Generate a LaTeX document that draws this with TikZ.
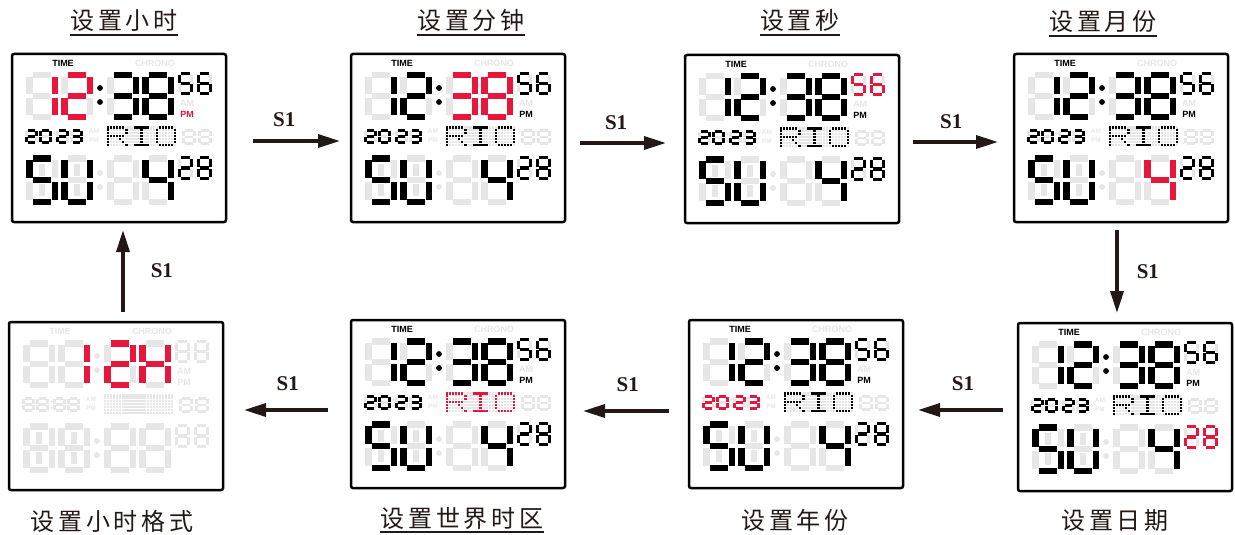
\documentclass[tikz,border=0pt]{standalone}
\usepackage{fontspec}
\setmainfont{Liberation Serif}
\setsansfont{Liberation Sans}
\newfontfamily\cjk[LetterSpace=16]{Noto Sans CJK SC}
\usetikzlibrary{arrows.meta,positioning}

\definecolor{lcdgray}{RGB}{230,230,230}
\definecolor{lcdred}{RGB}{232,22,58}
\definecolor{ink}{RGB}{35,24,21}

% segments of one digit, in a unit box (y runs down)
\newcommand\lcdsega[1]{\draw[#1] (0.14,0) -- (0.86,0);}
\newcommand\lcdsegb[1]{\draw[#1] (1,0.05) -- (1,0.46);}
\newcommand\lcdsegc[1]{\draw[#1] (1,0.54) -- (1,0.95);}
\newcommand\lcdsegd[1]{\draw[#1] (0.14,1) -- (0.86,1);}
\newcommand\lcdsege[1]{\draw[#1] (0,0.54) -- (0,0.95);}
\newcommand\lcdsegf[1]{\draw[#1] (0,0.05) -- (0,0.46);}
\newcommand\lcdsegg[1]{\draw[#1] (0.14,0.5) -- (0.86,0.5);}
\newcommand\lcdsegh[1]{\draw[#1] (0.5,0.14) -- (0.5,0.4);}
\newcommand\lcdsegi[1]{\draw[#1] (0.5,0.6) -- (0.5,0.86);}

% #1 corner, #2 width, #3 height, #4 segments, #5 style
\newcommand\lcddigit[5]{%
  \begin{scope}[shift={#1}, xscale=#2, yscale=#3]
    \foreach \s in {#4}{\csname lcdseg\s\endcsname{#5}}
  \end{scope}}

% dot matrix letters (column/row)
\def\chR{0/0,1/0,2/0,3/0,4/0,5/0,0/1,6/1,0/2,6/2,0/3,1/3,2/3,3/3,4/3,5/3,0/4,4/4,0/5,5/5,0/6,6/6}
\def\chI{1/0,2/0,3/0,4/0,5/0,3/1,3/2,3/3,3/4,3/5,1/6,2/6,3/6,4/6,5/6}
\def\chO{1/0,2/0,3/0,4/0,5/0,0/1,6/1,0/2,6/2,0/3,6/3,0/4,6/4,0/5,6/5,1/6,2/6,3/6,4/6,5/6}
\newcommand\lcdchar[3]{%
  \foreach \mc/\mr in #2 {\fill[#3, draw=none] ({94.8+3.05*(\mc+#1)}, {72.1+2.95*\mr}) rectangle +(2.4,2.4);}}

\tikzset{
  ghost/.style={draw=lcdgray, fill=lcdgray, text=lcdgray},
  lit/.style={draw=black, fill=black, text=black},
  hot/.style={draw=lcdred, fill=lcdred, text=lcdred},
  hr/.style={lit}, mn/.style={lit}, sc/.style={lit}, yr/.style={lit},
  cty/.style={lit}, dt/.style={lit}, mo/.style={lit}, tm/.style={lit}, pm/.style={lit},
  big/.style={line width=6.5pt},
  small/.style={line width=3.2pt},
  tiny/.style={line width=2.8pt},
  panel/.style={draw=black, line width=2.5pt, rounded corners=2pt, minimum width=214pt,
    minimum height=168pt, inner sep=0pt, outer sep=0pt},
  lcdlbl/.style={font=\sffamily\bfseries\fontsize{9}{9}\selectfont, inner sep=0pt, draw=none, fill=none},
  lcdsml/.style={lcdlbl, font=\sffamily\bfseries\fontsize{6.5}{6.5}\selectfont},
  title/.style={font=\cjk\fontsize{24}{24}\selectfont, text=ink, inner sep=0pt},
  uline/.style={draw=ink, line width=2.2pt},
  flow/.style={draw=ink, line width=3.5pt, -{Triangle[length=22pt,width=13pt]}},
  slbl/.style={font=\bfseries\fontsize{21}{21}\selectfont, text=ink, inner sep=0pt},
}

% every segment of the display, unlit
\newcommand\lcdblank{%
  \node[ghost, lcdlbl] (time0) at (51,9) {TIME};
  \node[ghost, lcdlbl] (chrono) at (143,9) {CHRONO};
  \node[ghost, lcdlbl] (am) at (175,49) {AM};
  \node[ghost, lcdlbl] (pm0) at (175,60) {PM};
  \node[ghost, lcdsml] (am2) at (82,77) {AM};
  \node[ghost, lcdsml] (pm2) at (82,86) {PM};
  \foreach \x in {17.25,52.25,98.25,133.25}{
    \lcddigit{(\x,21.25)}{25.5}{41.5}{a,b,c,d,e,f,g}{big,ghost}
  }
  \foreach \x in {17.25,52.25}{\lcddigit{(\x,104.25)}{25.5}{43.5}{a,b,c,d,e,f,g,h,i}{big,ghost}}
  \foreach \x in {98.25,133.25}{\lcddigit{(\x,104.25)}{25.5}{43.5}{a,b,c,d,e,f,g}{big,ghost}}
  \foreach \y in {34,48,119,133}{\fill[ghost] (88,\y) circle[radius=2.6pt];}
  \foreach \y in {79.5,86}{\fill[ghost] (42.5,\y) circle[radius=1.1pt];}
  \foreach \x in {167.6,186.6}{
    \lcddigit{(\x,19.6)}{11.8}{19.8}{a,b,c,d,e,f,g}{small,ghost}
    \lcddigit{(\x,103.6)}{11.8}{20.8}{a,b,c,d,e,f,g}{small,ghost}
  }
  \foreach \x in {14.4,28.4,45.4,59.4}{\lcddigit{(\x,76.4)}{10.2}{12.2}{a,b,c,d,e,f,g}{tiny,ghost}}
  \foreach \x in {171.4,187.4}{\lcddigit{(\x,76.4)}{11.2}{13.2}{a,b,c,d,e,f,g}{tiny,ghost}}
  \foreach \mc in {0,...,22}{
    \foreach \mr in {0,...,6}{
      \fill[ghost, draw=none] ({94.8+3.05*\mc}, {72.1+2.95*\mr}) rectangle +(2.4,2.4);
    }
  }
}

% 12:38 56 PM, 2023 RIO, SU 4 28
\newcommand\lcdface{%
  \lcdblank
  \node[tm, lcdlbl] (time) at (51,9) {TIME};
  \node[pm, lcdlbl] (pm) at (175,60) {PM};
  \lcddigit{(17.25,21.25)}{25.5}{41.5}{b,c}{big,hr}
  \lcddigit{(52.25,21.25)}{25.5}{41.5}{a,b,g,e,d}{big,hr}
  \foreach \y in {34,48}{\fill[lit] (88,\y) circle[radius=2.6pt];}
  \lcddigit{(98.25,21.25)}{25.5}{41.5}{a,b,g,c,d}{big,mn}
  \lcddigit{(133.25,21.25)}{25.5}{41.5}{a,b,c,d,e,f,g}{big,mn}
  \lcddigit{(167.6,19.6)}{11.8}{19.8}{a,f,g,c,d}{small,sc}
  \lcddigit{(186.6,19.6)}{11.8}{19.8}{a,f,g,e,c,d}{small,sc}
  \lcddigit{(14.4,76.4)}{10.2}{12.2}{a,b,g,e,d}{tiny,yr}
  \lcddigit{(28.4,76.4)}{10.2}{12.2}{a,b,c,d,e,f}{tiny,yr}
  \lcddigit{(45.4,76.4)}{10.2}{12.2}{a,b,g,e,d}{tiny,yr}
  \lcddigit{(59.4,76.4)}{10.2}{12.2}{a,b,g,c,d}{tiny,yr}
  \lcdchar{0}{\chR}{cty}
  \lcdchar{8}{\chI}{cty}
  \lcdchar{16}{\chO}{cty}
  \lcddigit{(17.25,104.25)}{25.5}{43.5}{a,f,g,c,d}{big,lit}
  \lcddigit{(52.25,104.25)}{25.5}{43.5}{f,e,b,c,d}{big,lit}
  \lcddigit{(133.25,104.25)}{25.5}{43.5}{f,g,b,c}{big,mo}
  \lcddigit{(167.6,103.6)}{11.8}{20.8}{a,b,g,e,d}{small,dt}
  \lcddigit{(186.6,103.6)}{11.8}{20.8}{a,b,c,d,e,f,g}{small,dt}
}

\begin{document}
\begin{tikzpicture}[x=1pt, y=-1pt]
\useasboundingbox (0,0) rectangle (1235,535);

% panels
\node[panel] (p1) at (119,138) {};
\node[panel] (p2) at (458,138) {};
\node[panel] (p3) at (792,139) {};
\node[panel] (p4) at (1121,138) {};
\node[panel] (p5) at (1125,407) {};
\node[panel] (p6) at (796,404) {};
\node[panel] (p7) at (458,404) {};
\node[panel] (p8) at (116,406) {};

\begin{scope}[shift={(p1.north west)}, name prefix=p1-, hr/.style={hot}, pm/.style={hot}]
  \lcdface
\end{scope}
\begin{scope}[shift={(p2.north west)}, name prefix=p2-, mn/.style={hot}]
  \lcdface
\end{scope}
\begin{scope}[shift={(p3.north west)}, name prefix=p3-, sc/.style={hot}]
  \lcdface
\end{scope}
\begin{scope}[shift={(p4.north west)}, name prefix=p4-, mo/.style={hot}]
  \lcdface
\end{scope}
\begin{scope}[shift={(p5.north west)}, name prefix=p5-, dt/.style={hot}]
  \lcdface
\end{scope}
\begin{scope}[shift={(p6.north west)}, name prefix=p6-, yr/.style={hot}]
  \lcdface
\end{scope}
\begin{scope}[shift={(p7.north west)}, name prefix=p7-, cty/.style={hot}]
  \lcdface
\end{scope}
\begin{scope}[shift={(p8.north west)}, name prefix=p8-]
  \lcdblank
  \lcddigit{(52.25,21.25)}{25.5}{41.5}{b,c}{big,hot}
  \lcddigit{(98.25,21.25)}{25.5}{41.5}{a,b,g,e,d}{big,hot}
  \lcddigit{(133.25,21.25)}{25.5}{41.5}{b,c,e,f,g}{big,hot}
\end{scope}

% titles
\node[title] (t1) at (124,20) {设置小时};
\node[title] (t2) at (471,20) {设置分钟};
\node[title] (t3) at (800,20) {设置秒};
\node[title] (t4) at (1103,21) {设置月份};
\node[title] (t5) at (1115,521) {设置日期};
\node[title] (t6) at (795,520) {设置年份};
\node[title] (t7) at (462,519) {设置世界时区};
\node[title] (t8) at (112,521) {设置小时格式};
\foreach \t in {t1,t2,t3,t4}{
  \draw[uline] ([yshift=-4pt]\t.south west) -- ([yshift=-4pt]\t.south east);
}
\draw[uline] ([yshift=-2pt]t7.south west) -- ([yshift=-2pt]t7.south east);

% S1 steps
\draw[flow] ([shift={(27,3)}]p1.east) -- node[slbl, pos=0.36, above=13pt] (s1) {S1} ([shift={(-11,3)}]p2.west);
\draw[flow] ([shift={(15,5)}]p2.east) -- node[slbl, pos=0.42, above=12pt] (s2) {S1} ([shift={(-19,4)}]p3.west);
\draw[flow] ([shift={(14,3)}]p3.east) -- node[slbl, pos=0.45, above=12pt] (s3) {S1} ([shift={(-16,4)}]p4.west);
\draw[flow] ([shift={(-4,8)}]p4.south) -- node[slbl, right=18pt] (s4) {S1} ([shift={(-8,-10)}]p5.north);
\draw[flow] ([shift={(-15,3)}]p5.west) -- node[slbl, pos=0.47, above=18pt] (s5) {S1} ([shift={(15,6)}]p6.east);
\draw[flow] ([shift={(-20,7)}]p6.west) -- node[slbl, pos=0.48, above=18pt] (s6) {S1} ([shift={(18,7)}]p7.east);
\draw[flow] ([shift={(-23,6)}]p7.west) -- node[slbl, pos=0.48, above=18pt] (s7) {S1} ([shift={(21,4)}]p8.east);
\draw[flow] ([shift={(7,-10)}]p8.north) -- node[slbl, right=26pt] (s8) {S1} ([shift={(4,8)}]p1.south);
\end{tikzpicture}
\end{document}
